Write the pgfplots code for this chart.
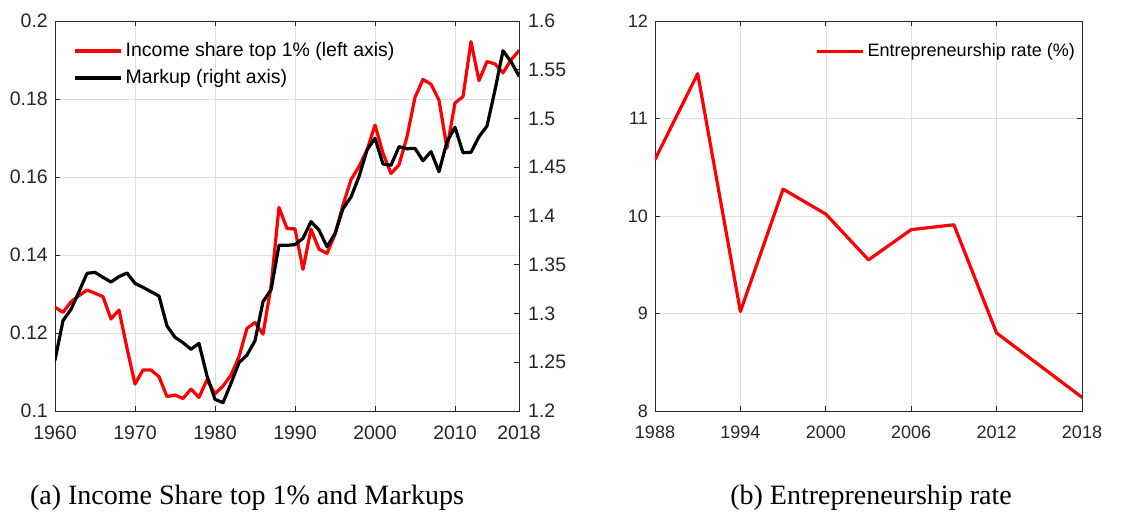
\documentclass[border=0pt]{standalone}
\usepackage{fontspec}
\setsansfont{Liberation Sans}
\newfontfamily\capfont{Liberation Serif}
\usepackage{pgfplots}
\pgfplotsset{compat=1.18}

\definecolor{axgray}{RGB}{38,38,38}
\definecolor{gridgray}{RGB}{223,223,223}

\newcommand{\fontA}{\sffamily\fontsize{19.5}{23}\selectfont}
\newcommand{\fontB}{\sffamily\fontsize{18}{21}\selectfont}

\pgfplotsset{
  mlab/.style={
    scale only axis,
    axis line style={axgray, line width=0.8pt},
    tick style={axgray, line width=0.8pt},
    major tick length=5pt,
    tick align=inside,
    tick label style={font=#1, text=axgray, inner sep=0pt},
    grid style={gridgray, line width=0.6pt},
    xticklabel shift=15pt,
    yticklabel shift=7pt,
    legend style={draw=none, fill=none, font=#1, text=black,
      inner sep=0pt, outer sep=0pt,
      /tikz/row sep=9pt, /tikz/column sep=3.5pt,
      nodes={inner sep=0pt, text height=14pt, text depth=4pt}},
    legend cell align=left,
    legend image code/.code={\draw[##1, line width=3.2pt, line cap=butt] (0pt,0pt) -- (46pt,0pt);},
  },
  series/.style={line width=3.2pt, line join=round, line cap=round},
}

\begin{document}
\begin{tikzpicture}[x=1pt, y=1pt]
\path (0,0) rectangle (1148,512);

% Panel (a): top 1% income share (left axis) and markup (right axis)
\begin{axis}[mlab=\fontA,
  at={(55pt,101pt)}, anchor=south west,
  width=464pt, height=390pt,
  xmin=1960, xmax=2018, ymin=0.1, ymax=0.2,
  xtick={1960,1970,1980,1990,2000,2010,2018},
  xticklabels={1960,1970,1980,1990,2000,2010,2018},
  ytick={0.1,0.12,0.14,0.16,0.18,0.2},
  yticklabels={0.1,0.12,0.14,0.16,0.18,0.2},
  ytick pos=left, xtick pos=both,
  xmajorgrids, ymajorgrids,
]
\addplot[series, red] coordinates {
(1960,0.1266) (1961,0.1253) (1962,0.1280) (1963,0.1296) (1964,0.1310)
(1965,0.1302) (1966,0.1293) (1967,0.1236) (1968,0.1259) (1969,0.1161)
(1970,0.1069) (1971,0.1105) (1972,0.1105) (1973,0.1088) (1974,0.1037)
(1975,0.1041) (1976,0.1032) (1977,0.1056) (1978,0.1035) (1979,0.1080)
(1980,0.1044) (1981,0.1064) (1982,0.1092) (1983,0.1139) (1984,0.1212)
(1985,0.1227) (1986,0.1197) (1987,0.1319) (1988,0.1522) (1989,0.1468)
(1990,0.1467) (1991,0.1363) (1992,0.1466) (1993,0.1415) (1994,0.1404)
(1995,0.1453) (1996,0.1528) (1997,0.1593) (1998,0.1627) (1999,0.1669)
(2000,0.1733) (2001,0.1661) (2002,0.1609) (2003,0.1631) (2004,0.1703)
(2005,0.1804) (2006,0.1850) (2007,0.1838) (2008,0.1797) (2009,0.1674)
(2010,0.1790) (2011,0.1806) (2012,0.1947) (2013,0.1847) (2014,0.1896)
(2015,0.1890) (2016,0.1867) (2017,0.1900) (2018,0.1924)
};
\end{axis}

\begin{axis}[mlab=\fontA,
  at={(55pt,101pt)}, anchor=south west,
  width=464pt, height=390pt,
  xmin=1960, xmax=2018, ymin=1.2, ymax=1.6,
  axis x line=none, axis y line*=right,
  yticklabel shift=9pt,
  ytick={1.2,1.25,1.3,1.35,1.4,1.45,1.5,1.55,1.6},
  yticklabels={1.2,1.25,1.3,1.35,1.4,1.45,1.5,1.55,1.6},
  legend style={at={(0.0388,0.946)}, anchor=north west},
]
\addlegendimage{series, red}
\addlegendentry{Income share top 1\% (left axis)}
\addplot[series, black] coordinates {
(1960,1.2523) (1961,1.2926) (1962,1.3043) (1963,1.3224) (1964,1.3412)
(1965,1.3422) (1966,1.3371) (1967,1.3323) (1968,1.3378) (1969,1.3415)
(1970,1.3309) (1971,1.3268) (1972,1.3224) (1973,1.3179) (1974,1.2872)
(1975,1.2756) (1976,1.2701) (1977,1.2633) (1978,1.2694) (1979,1.2360)
(1980,1.2120) (1981,1.2085) (1982,1.2284) (1983,1.2496) (1984,1.2574)
(1985,1.2721) (1986,1.3121) (1987,1.3241) (1988,1.3699) (1989,1.3699)
(1990,1.3706) (1991,1.3771) (1992,1.3942) (1993,1.3856) (1994,1.3685)
(1995,1.3820) (1996,1.4075) (1997,1.4195) (1998,1.4403) (1999,1.4677)
(2000,1.4797) (2001,1.4533) (2002,1.4520) (2003,1.4711) (2004,1.4690)
(2005,1.4694) (2006,1.4567) (2007,1.4660) (2008,1.4454) (2009,1.4762)
(2010,1.4910) (2011,1.4649) (2012,1.4653) (2013,1.4813) (2014,1.4923)
(2015,1.5292) (2016,1.5695) (2017,1.5583) (2018,1.5436)
};
\addlegendentry{Markup (right axis)}
\end{axis}

% Panel (b): entrepreneurship rate
\begin{axis}[mlab=\fontB,
  at={(655pt,101pt)}, anchor=south west,
  width=427pt, height=390pt,
  xmin=1988, xmax=2018, ymin=8, ymax=12,
  xtick={1988,1994,2000,2006,2012,2018},
  xticklabels={1988,1994,2000,2006,2012,2018},
  ytick={8,9,10,11,12},
  yticklabels={8,9,10,11,12},
  xtick pos=both, ytick pos=both,
  xmajorgrids, ymajorgrids,
  legend style={at={(0.3747,0.944)}, anchor=north west},
]
\addplot[series, red] coordinates {
(1988,10.58) (1991,11.46) (1994,9.02) (1997,10.275) (2000,10.02)
(2003,9.55) (2006,9.86) (2009,9.91) (2012,8.80) (2015,8.47) (2018,8.14)
};
\addlegendentry{Entrepreneurship rate (\%)}
\end{axis}

\node[font=\capfont\fontsize{28}{32}\selectfont, anchor=base] at (247,7) {(a) Income Share top 1\% and Markups};
\node[font=\capfont\fontsize{28}{32}\selectfont, anchor=base] at (871,7) {(b) Entrepreneurship rate};
\end{tikzpicture}
\end{document}
